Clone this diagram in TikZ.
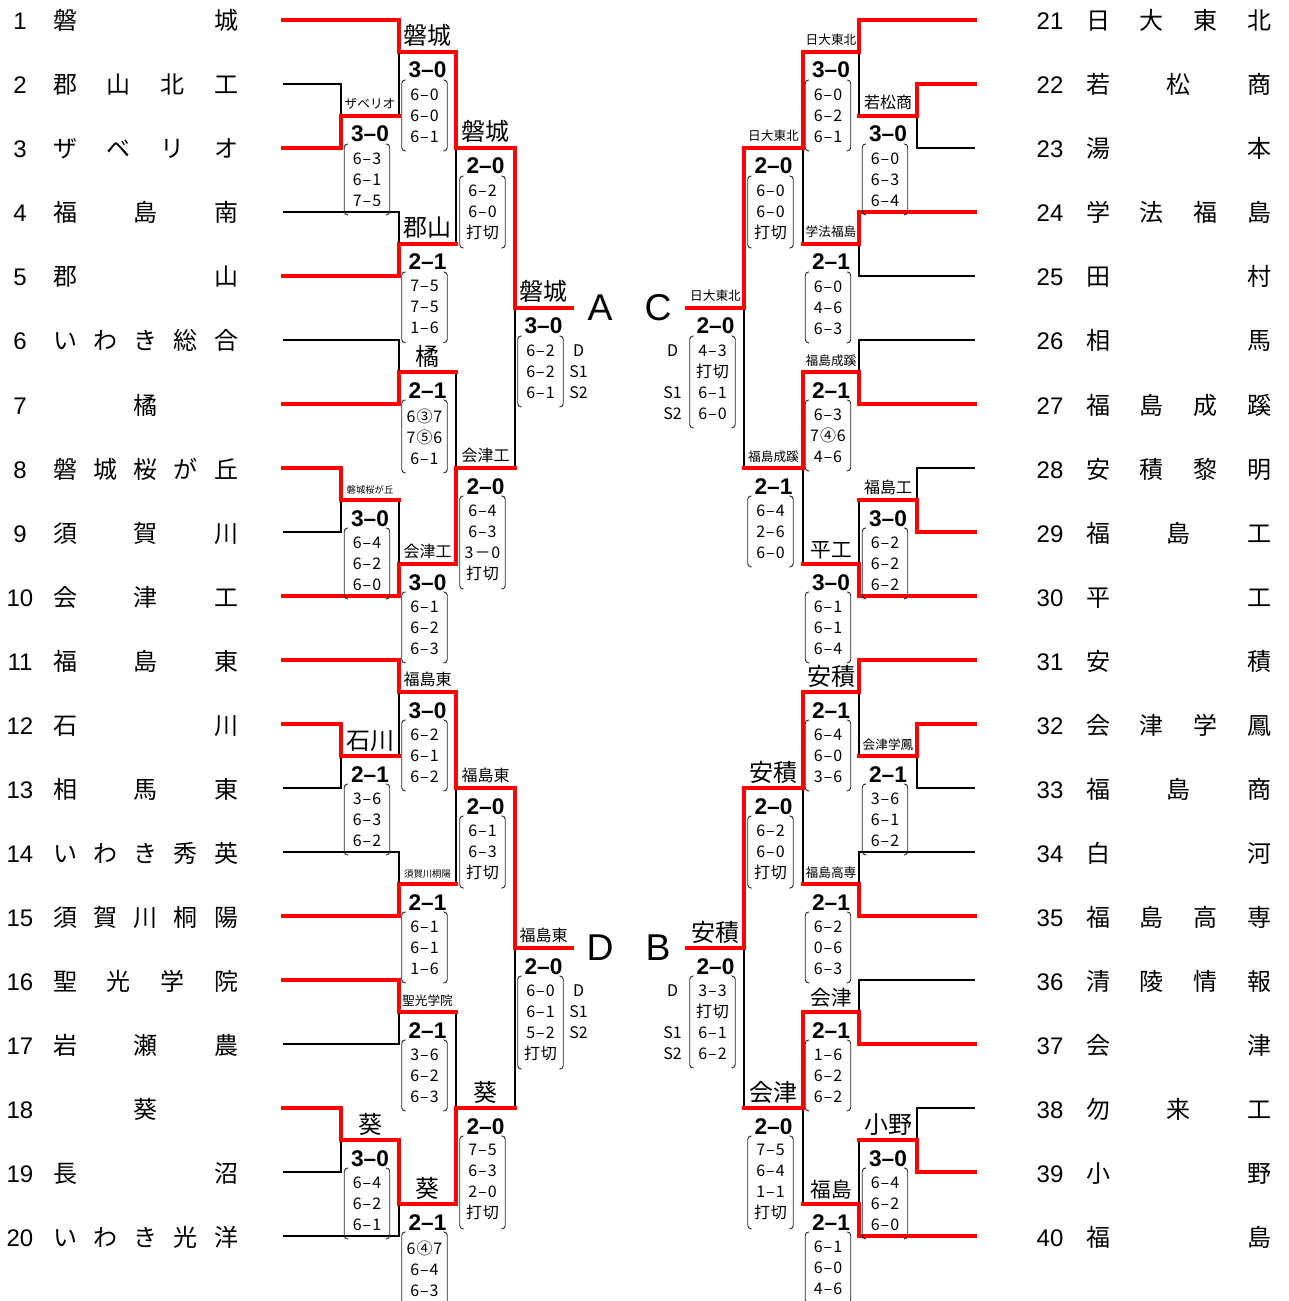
\documentclass[tikz,border=0pt]{standalone}
\usepackage{fontspec}
\setmainfont{Noto Sans CJK JP}
\newfontfamily\arialfont{Liberation Sans}
\usetikzlibrary{calc, positioning}
\definecolor{wincolor}{RGB}{255,0,0}
\definecolor{parencolor}{RGB}{40,40,40}

% winner label, match score and set scores under one match
\newcommand\result[5]{%
  \coordinate (c#1) at ($(#1)!.5!(o#1)$);
  \node[#2] (w#1) at ($(c#1)+(0,-7)$) {#3};
  \node[score] (s#1) at ($(c#1)+(0,26)$) {#4};
  \node[sets] (b#1) at ($(c#1)+(-3,28)$) {#5};
  \draw[paren] ([xshift=3pt]b#1.north west) -- (b#1.north west) -- (b#1.south west) -- ([xshift=3pt]b#1.south west);
  \draw[paren] ([xshift=-3pt]b#1.north east) -- (b#1.north east) -- (b#1.south east) -- ([xshift=-3pt]b#1.south east);
}

\begin{document}
\begin{tikzpicture}[
    x=0.75pt, y=-0.75pt,
    win/.style={wincolor, line width=2.6pt, line cap=rect},
    lose/.style={black, line width=1.2pt},
    num/.style={font=\arialfont\fontsize{18}{18}\selectfont, anchor=base, yshift=-7.5pt, inner sep=0pt},
    tname/.style={font=\fontsize{18}{18}\selectfont, anchor=base, yshift=-7.5pt, inner sep=0pt},
    lblL/.style={font=\fontsize{18}{18}\selectfont, anchor=base, inner sep=0pt},
    lblX/.style={font=\fontsize{15.5}{15.5}\selectfont, anchor=base, inner sep=0pt},
    lblM/.style={font=\fontsize{12}{12}\selectfont, anchor=base, inner sep=0pt},
    lblS/.style={font=\fontsize{9.5}{9.5}\selectfont, anchor=base, inner sep=0pt},
    lblT/.style={font=\fontsize{7}{7}\selectfont, anchor=base, inner sep=0pt},
    score/.style={font=\arialfont\bfseries\fontsize{17}{17}\selectfont, anchor=base, inner sep=0pt},
    sets/.style={font=\fontsize{12}{15.75}\selectfont\addfontfeatures{LetterSpace=6}, align=center, anchor=north, inner xsep=0pt, inner ysep=6.2pt, minimum width=33.75pt},
    setcol/.style={font=\fontsize{12}{15.75}\selectfont, align=center, anchor=north, inner xsep=0pt, inner ysep=6.2pt},
    paren/.style={parencolor, line width=0.7pt, rounded corners=2.5pt},
    letter/.style={font=\arialfont\fontsize{28}{28}\selectfont, inner sep=0pt}
]
    \useasboundingbox (0,0) rectangle (1288,1301);

    % Teams, left side
    \foreach \i/\nm in {1/{磐,城}, 2/{郡,山,北,工}, 3/{ザ,ベ,リ,オ}, 4/{福,島,南}, 5/{郡,山},
        6/{い,わ,き,総,合}, 7/{橘}, 8/{磐,城,桜,が,丘}, 9/{須,賀,川}, 10/{会,津,工},
        11/{福,島,東}, 12/{石,川}, 13/{相,馬,東}, 14/{い,わ,き,秀,英}, 15/{須,賀,川,桐,陽},
        16/{聖,光,学,院}, 17/{岩,瀬,農}, 18/{葵}, 19/{長,沼}, 20/{い,わ,き,光,洋}} {
        \pgfmathsetmacro\ty{20+64*(\i-1)}
        \node[num] (num\i) at (20,\ty) {\i};
        \coordinate (t\i) at (283,\ty);
        \foreach \ch [count=\k] in \nm {\xdef\nch{\k}}
        \foreach \ch [count=\k] in \nm {
            \ifnum\nch=1 \pgfmathsetmacro\tx{145.5}\else\pgfmathsetmacro\tx{65+(\k-1)*161/(\nch-1)}\fi
            \node[tname] (nm\i-\k) at (\tx,\ty) {\ch};
        }
    }

    % Teams, right side
    \foreach \i/\nm in {21/{日,大,東,北}, 22/{若,松,商}, 23/{湯,本}, 24/{学,法,福,島}, 25/{田,村},
        26/{相,馬}, 27/{福,島,成,蹊}, 28/{安,積,黎,明}, 29/{福,島,工}, 30/{平,工},
        31/{安,積}, 32/{会,津,学,鳳}, 33/{福,島,商}, 34/{白,河}, 35/{福,島,高,専},
        36/{清,陵,情,報}, 37/{会,津}, 38/{勿,来,工}, 39/{小,野}, 40/{福,島}} {
        \pgfmathsetmacro\ty{20+64*(\i-21)}
        \node[num] (num\i) at (1050,\ty) {\i};
        \coordinate (t\i) at (975,\ty);
        \foreach \ch [count=\k] in \nm {\xdef\nch{\k}}
        \foreach \ch [count=\k] in \nm {
            \ifnum\nch=1 \pgfmathsetmacro\tx{1178.5}\else\pgfmathsetmacro\tx{1098+(\k-1)*161/(\nch-1)}\fi
            \node[tname] (nm\i-\k) at (\tx,\ty) {\ch};
        }
    }

    % Match junctions and their outgoing ends
    \foreach \m/\x/\y/\ox in {m23/341/116/399, m1/399/52/456, m45/399/244/456, mQ1/456/148/515,
        m67/399/372/456, m89/341/500/399, m10/399/564/456, mQ2/456/468/515, mA/515/308/572,
        m1213/341/756/399, m11/399/692/456, m1415/399/884/456, mQ3/456/788/515,
        m1617/399/1012/456, m1819/341/1140/399, m20/399/1204/456, mQ4/456/1108/515, mD/515/948/572,
        m2223/917/116/859, m21/859/52/803, m2425/859/244/803, mR1/803/148/744,
        m2627/859/372/803, m2829/917/500/859, m30/859/564/803, mR2/803/468/744, mC/744/308/687,
        m3233/917/756/859, m31/859/692/803, m3435/859/884/803, mR3/803/788/744,
        m3637/859/1012/803, m3839/917/1140/859, m40/859/1204/803, mR4/803/1108/744, mB/744/948/687} {
        \coordinate (\m) at (\x,\y);
        \coordinate (o\m) at (\ox,\y);
    }

    % Losers
    \foreach \a/\b in {t2/m23, t4/m45, t6/m67, t9/m89, t13/m1213, t14/m1415, t17/m1617,
        t19/m1819, t20/m20, t23/m2223, t25/m2425, t26/m2627, t28/m2829, t33/m3233,
        t34/m3435, t36/m3637, t38/m3839}
        \draw[lose] (\a) -| (\b);
    \foreach \a/\b in {m23/m1, m45/mQ1, m89/m10, m67/mQ2, mQ2/mA, m1213/m11, m1415/mQ3,
        m1617/mQ4, mQ4/mD, m2223/m21, m2425/mR1, m2829/m30, m30/mR2, mR2/mC, m3233/m31,
        m3435/mR3, m3839/m40, m40/mR4, mR4/mB} {
        \draw[lose] (\a) -| (\b);
        \draw[win] (\a) -- (\a -| \b);
    }

    % Winners
    \foreach \a/\b in {t3/m23, t1/m1, t5/m45, m1/mQ1, t7/m67, t8/m89, t10/m10, m10/mQ2, mQ1/mA,
        t12/m1213, t11/m11, t15/m1415, m11/mQ3, t16/m1617, t18/m1819, m1819/m20, m20/mQ4, mQ3/mD,
        t22/m2223, t21/m21, t24/m2425, m21/mR1, t27/m2627, t29/m2829, t30/m30, m2627/mR2, mR1/mC,
        t32/m3233, t31/m31, t35/m3435, m31/mR3, t37/m3637, t39/m3839, t40/m40, m3637/mR4, mR3/mB}
        \draw[win] (\a) -| (\b);
    \foreach \m in {mA, mD, mC, mB}
        \draw[win] (\m) -- (o\m);

    % Results, left side
    \result{m23}{lblS}{ザベリオ}{3–0}{6–3\\6–1\\7–5}
    \result{m1}{lblL}{磐城}{3–0}{6–0\\6–0\\6–1}
    \result{m45}{lblL}{郡山}{2–1}{7–5\\7–5\\1–6}
    \result{mQ1}{lblL}{磐城}{2–0}{6–2\\6–0\\打切}
    \result{m67}{lblL}{橘}{2–1}{6③7\\7⑤6\\6–1}
    \result{m89}{lblT}{磐城桜が丘}{3–0}{6–4\\6–2\\6–0}
    \result{m10}{lblM}{会津工}{3–0}{6–1\\6–2\\6–3}
    \result{mQ2}{lblM}{会津工}{2–0}{6–4\\6–3\\3－0\\打切}
    \result{mA}{lblL}{磐城}{3–0}{6–2\\6–2\\6–1}
    \result{m1213}{lblL}{石川}{2–1}{3–6\\6–3\\6–2}
    \result{m11}{lblM}{福島東}{3–0}{6–2\\6–1\\6–2}
    \result{m1415}{lblT}{須賀川桐陽}{2–1}{6–1\\6–1\\1–6}
    \result{mQ3}{lblM}{福島東}{2–0}{6–1\\6–3\\打切}
    \result{m1617}{lblS}{聖光学院}{2–1}{3–6\\6–2\\6–3}
    \result{m1819}{lblL}{葵}{3–0}{6–4\\6–2\\6–1}
    \result{m20}{lblL}{葵}{2–1}{6④7\\6–4\\6–3}
    \result{mQ4}{lblL}{葵}{2–0}{7–5\\6–3\\2–0\\打切}
    \result{mD}{lblM}{福島東}{2–0}{6–0\\6–1\\5–2\\打切}

    % Results, right side
    \result{m2223}{lblM}{若松商}{3–0}{6–0\\6–3\\6–4}
    \result{m21}{lblS}{日大東北}{3–0}{6–0\\6–2\\6–1}
    \result{m2425}{lblS}{学法福島}{2–1}{6–0\\4–6\\6–3}
    \result{mR1}{lblS}{日大東北}{2–0}{6–0\\6–0\\打切}
    \result{m2627}{lblS}{福島成蹊}{2–1}{6–3\\7④6\\4–6}
    \result{m2829}{lblM}{福島工}{3–0}{6–2\\6–2\\6–2}
    \result{m30}{lblX}{平工}{3–0}{6–1\\6–1\\6–4}
    \result{mR2}{lblS}{福島成蹊}{2–1}{6–4\\2–6\\6–0}
    \result{mC}{lblS}{日大東北}{2–0}{4–3\\打切\\6–1\\6–0}
    \result{m3233}{lblS}{会津学鳳}{2–1}{3–6\\6–1\\6–2}
    \result{m31}{lblL}{安積}{2–1}{6–4\\6–0\\3–6}
    \result{m3435}{lblS}{福島高専}{2–1}{6–2\\0–6\\6–3}
    \result{mR3}{lblL}{安積}{2–0}{6–2\\6–0\\打切}
    \result{m3637}{lblX}{会津}{2–1}{1–6\\6–2\\6–2}
    \result{m3839}{lblL}{小野}{3–0}{6–4\\6–2\\6–0}
    \result{m40}{lblX}{福島}{2–1}{6–1\\6–0\\4–6}
    \result{mR4}{lblL}{会津}{2–0}{7–5\\6–4\\1–1\\打切}
    \result{mB}{lblL}{安積}{2–0}{3–3\\打切\\6–1\\6–2}

    % Doubles / singles tags beside the block finals
    \node[setcol] (dA) at ($(cmA)+(35,28)$) {D\\S1\\S2};
    \node[setcol] (dD) at ($(cmD)+(35,28)$) {D\\S1\\S2};
    \node[setcol] (dC) at ($(cmC)+(-43,28)$) {D\\\phantom{S}\\S1\\S2};
    \node[setcol] (dB) at ($(cmB)+(-43,28)$) {D\\\phantom{S}\\S1\\S2};

    % Block letters
    \node[letter] (letA) at (600,308) {A};
    \node[letter] (letD) at (600,948) {D};
    \node[letter] (letC) at (658,308) {C};
    \node[letter] (letB) at (658,948) {B};
\end{tikzpicture}
\end{document}
